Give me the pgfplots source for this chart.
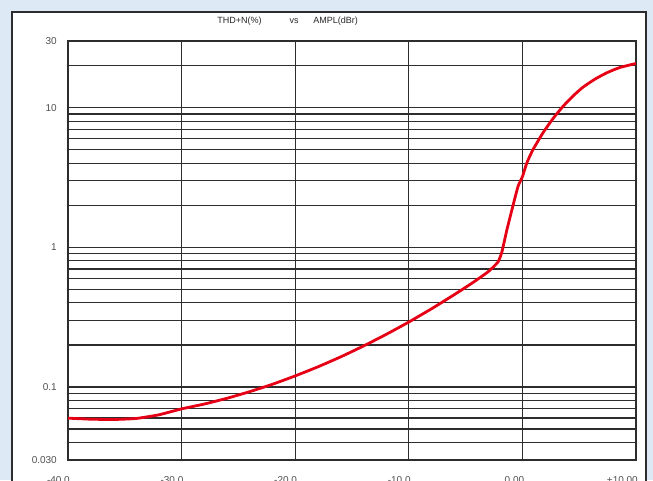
\documentclass[border=0pt]{standalone}
\usepackage{pgfplots}
\pgfplotsset{compat=1.18}
\usepackage{fontspec}
\setmainfont{Liberation Sans}
\definecolor{bgblue}{RGB}{222,233,246}
\definecolor{gridc}{RGB}{45,45,45}
\definecolor{curvered}{RGB}{230,0,22}
\definecolor{labc}{RGB}{80,80,80}
\begin{document}
\begin{tikzpicture}[x=1pt,y=1pt]
\useasboundingbox (0,0) rectangle (653,480);
\fill[bgblue] (0,0) rectangle (653,480);
\draw[fill=white, draw=gridc, line width=1.3pt] (12,-5) rectangle (646,468);
\node[font=\fontsize{9}{10}\selectfont, text=black!85] at (239.5,459) {THD+N(\%)};
\node[font=\fontsize{9}{10}\selectfont, text=black!85] at (294,459) {vs};
\node[font=\fontsize{9}{10}\selectfont, text=black!85] at (335.5,459) {AMPL(dBr)};
\begin{axis}[
  at={(68pt,20pt)}, anchor=south west,
  width=568pt, height=419pt, scale only axis,
  xmin=-40, xmax=10,
  ymode=log, ymin=0.03, ymax=30,
  xtick={-40,-30,-20,-10,0,10},
  xticklabels={-40.0,-30.0,-20.0,-10.0,0.00,+10.00},
  ytick={0.03,0.1,1,10,30},
  yticklabels={{0.030\hspace{11pt}},{0.1\hspace{7pt}},{1\hspace{2pt}},10,30},
  minor ytick={0.04,0.05,0.06,0.07,0.08,0.09,0.2,0.3,0.4,0.5,0.6,0.7,0.8,0.9,2,3,4,5,6,7,8,9,20},
  grid=both,
  major grid style={draw=gridc, line width=1.2pt},
  minor grid style={draw=gridc, line width=1.2pt},
  axis line style={draw=gridc, line width=1.3pt},
  major tick length=0pt, minor tick length=0pt,
  tick style={draw=none},
  yticklabel style={anchor=east, inner sep=0pt, xshift=-11pt, font=\fontsize{10}{11}\selectfont, text=labc},
  xticklabel style={anchor=north east, inner sep=0pt, xshift=2pt, yshift=-16pt, font=\fontsize{10}{11}\selectfont, text=labc},
  clip=false,
]
\addplot[curvered, line width=2.8pt, smooth, tension=0.3] coordinates {
(-40,0.0598) (-38,0.0588) (-36,0.0585) (-34,0.0595) (-32,0.0632)
(-30,0.0697) (-28,0.0755) (-26,0.0830) (-24,0.0926) (-22,0.1046)
(-20,0.120) (-18,0.1394) (-16,0.1642) (-14,0.1963) (-12,0.2377)
(-10,0.2917) (-8,0.363) (-6,0.458) (-4.35,0.560) (-3,0.670)
(-2.15,0.785) (-1.80,0.930) (-1.36,1.34) (-0.92,1.86) (-0.39,2.72) (0.00,3.20)
(0.40,4.04) (0.93,5.00) (1.81,6.60) (2.69,8.34) (3.57,10.2) (4.45,12.1)
(5.33,14.0) (6.39,16.0) (7.45,17.8) (8.59,19.4) (10.0,20.7)
};
\end{axis}
\end{tikzpicture}
\end{document}
